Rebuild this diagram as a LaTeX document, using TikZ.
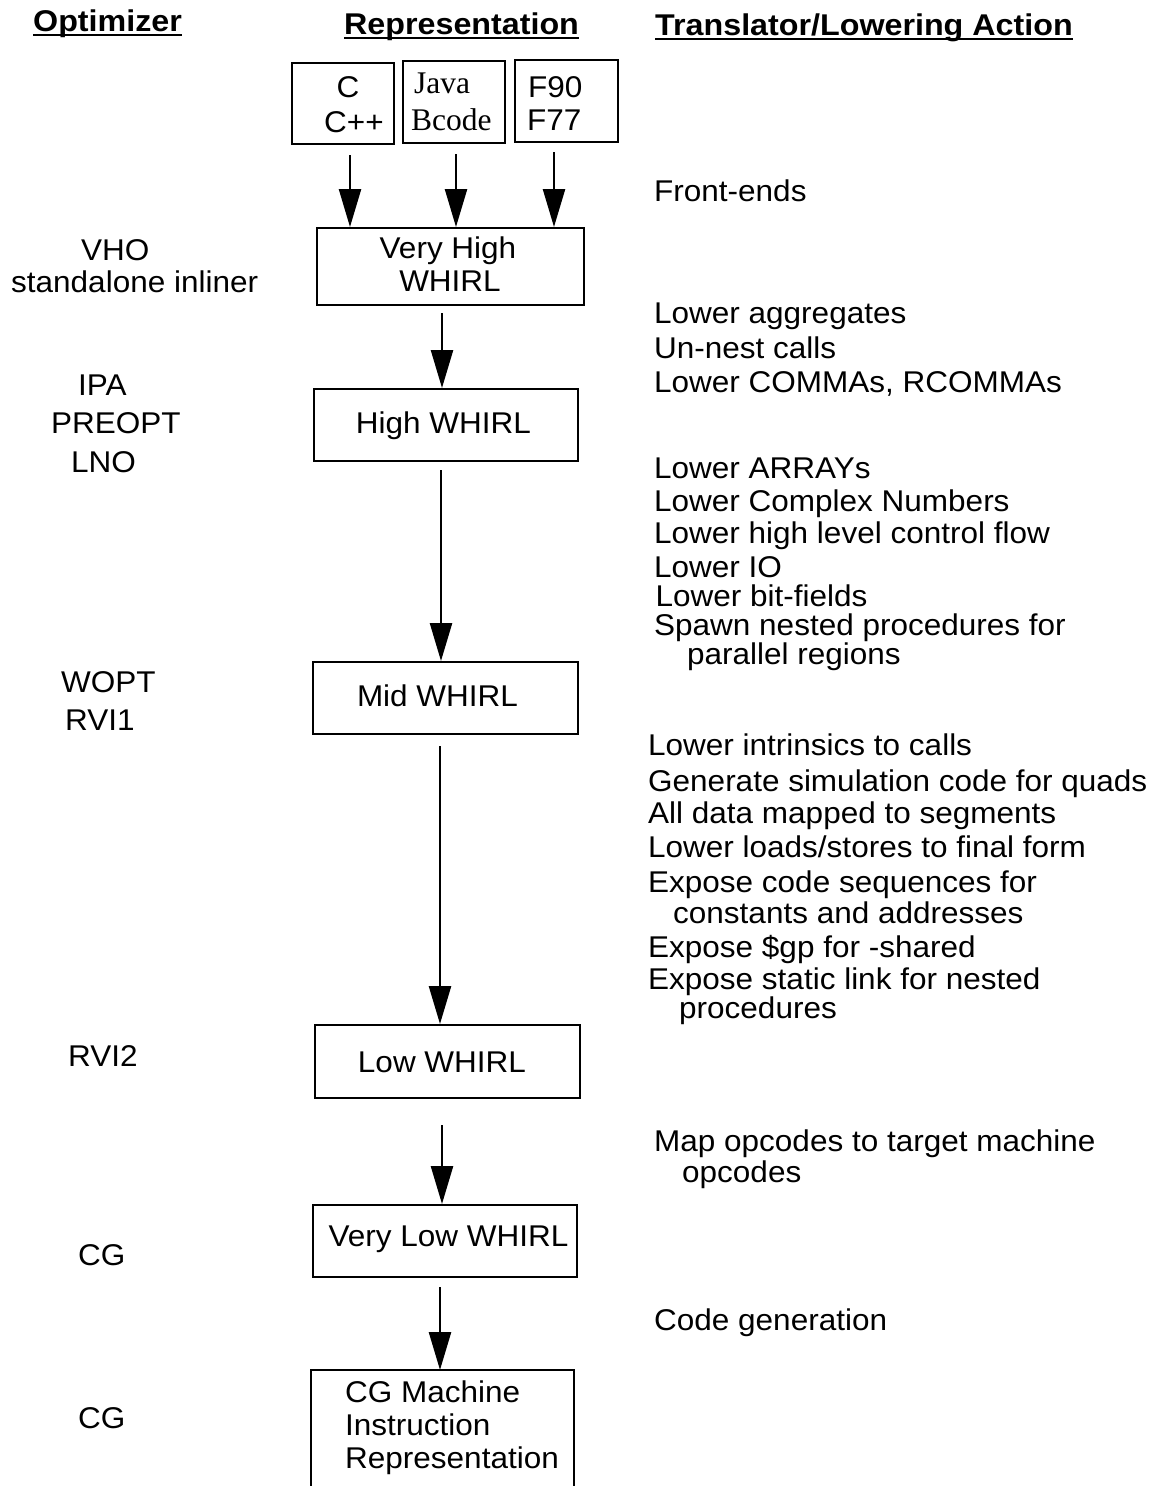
\documentclass[tikz,border=0pt]{standalone}
\usepackage{fontspec}
\setmainfont{Liberation Sans}[FakeStretch=1.05]
\newfontfamily\serifjava{Liberation Serif}
\newfontfamily\headfont{Liberation Sans}[FakeStretch=1.075]
\usetikzlibrary{arrows.meta}
\tikzset{
  txt/.style={inner sep=0pt, anchor=base west, font=\fontsize{30}{34}\selectfont},
  ctxt/.style={txt, anchor=base},
  jtxt/.style={inner sep=0pt, anchor=base west, font=\serifjava\fontsize{31.5}{34}\selectfont},
  head/.style={txt, font=\headfont\bfseries\fontsize{30}{34}\selectfont},
  firstl/.style={text depth=1pt},
  contl/.style={text height=15pt},
  uline/.style={line width=2pt},
  box/.style={draw, line width=2pt, inner sep=0pt, anchor=north west},
  arr/.style={line width=2.5pt, -{Triangle[length=38pt,width=22pt]}},
}
\begin{document}
\begin{tikzpicture}[x=1pt,y=-1pt]
\useasboundingbox[fill=white] (0,0) rectangle (1168,1486);

% headers
\node[head] (h1) at (33,31) {Optimizer};
\node[head] (h2) at (344,34) {Representation};
\node[head] (h3) at (655,35) {Translator/Lowering Action};
\foreach \h in {h1,h2,h3}
  \draw[uline] ([yshift=-3.5pt]\h.base west) -- ([yshift=-3.5pt]\h.base east);

% source boxes
\node[box, minimum width=102pt, minimum height=81pt] (cbox) at (291,62) {};
\node[box, minimum width=102pt, minimum height=82pt] (jbox) at (402,60) {};
\node[box, minimum width=103pt, minimum height=82pt] (fbox) at (514,59) {};
\node[ctxt] (tc) at (348,97) {C};
\node[ctxt] (tcpp) at (354,132) {C++};
\node[jtxt] (tjava) at (414,93) {Java};
\node[jtxt] (tbcode) at (411,130) {Bcode};
\node[txt] (tf90) at (528,97) {F90};
\node[txt] (tf77) at (527,130) {F77};

% representation boxes
\node[box, minimum width=267pt, minimum height=77pt] (vh) at (316,227) {};
\node[box, minimum width=264pt, minimum height=72pt] (hi) at (313,388) {};
\node[box, minimum width=265pt, minimum height=72pt] (mid) at (312,661) {};
\node[box, minimum width=265pt, minimum height=73pt] (low) at (314,1024) {};
\node[box, minimum width=264pt, minimum height=72pt] (vlow) at (312,1204) {};
\node[inner sep=0pt, anchor=north west, minimum width=263pt, minimum height=124pt] (cg) at (311,1370) {};
\draw[line width=2pt] (cg.south west) -- (cg.north west) -- (cg.north east) -- (cg.south east);

\node[ctxt] (tvh1) at (448,258) {Very High};
\node[ctxt] (tvh2) at (450,291) {WHIRL};
\node[ctxt] (thi) at (443.5,433) {High WHIRL};
\node[ctxt] (tmid) at (437.5,706) {Mid WHIRL};
\node[ctxt] (tlow) at (442,1072) {Low WHIRL};
\node[ctxt] (tvlow) at (448.5,1246) {Very Low WHIRL};
\node[txt] (tcg1) at (345,1402) {CG Machine};
\node[txt] (tcg2) at (345,1435) {Instruction};
\node[txt] (tcg3) at (345,1468) {Representation};

% arrows
\coordinate (s1) at (350,155);
\coordinate (s2) at (456,154);
\coordinate (s3) at (554,152);
\coordinate (s4) at (442,313);
\coordinate (s5) at (441,470);
\coordinate (s6) at (440,746);
\coordinate (s7) at (442,1125);
\coordinate (s8) at (440,1287);
\draw[arr] (s1) -- (s1 |- vh.north);
\draw[arr] (s2) -- (s2 |- vh.north);
\draw[arr] (s3) -- (s3 |- vh.north);
\draw[arr] (s4) -- (s4 |- hi.north);
\draw[arr] (s5) -- (s5 |- mid.north);
\draw[arr] (s6) -- (s6 |- low.north);
\draw[arr] (s7) -- (s7 |- vlow.north);
\draw[arr] (s8) -- (s8 |- cg.north);

% optimizer labels
\node[txt] (o1) at (81,260) {VHO};
\node[txt] (o2) at (11,292) {standalone inliner};
\node[txt] (o3) at (78,395) {IPA};
\node[txt] (o4) at (51,433) {PREOPT};
\node[txt] (o5) at (71,472) {LNO};
\node[txt] (o6) at (61,692) {WOPT};
\node[txt] (o7) at (65,730) {RVI1};
\node[txt] (o8) at (68,1066) {RVI2};
\node[txt] (o9) at (78,1265) {CG};
\node[txt] (o10) at (78,1428) {CG};

% translator / lowering actions
\node[txt] (r1) at (654,201) {Front-ends};
\node[txt] (r2) at (654,323) {Lower aggregates};
\node[txt] (r3) at (654,358) {Un-nest calls};
\node[txt] (r4) at (654,392) {Lower COMMAs, RCOMMAs};
\node[txt] (r5) at (654,478) {Lower ARRAYs};
\node[txt] (r6) at (654,511) {Lower Complex Numbers};
\node[txt] (r7) at (654,543) {Lower high level control flow};
\node[txt] (r8) at (654,577) {Lower IO};
\node[txt] (r9) at (655.5,606) {Lower bit-fields};
\node[txt, firstl] (r10) at (654,635) {Spawn nested procedures for};
\node[txt, contl] (r11) at (687,664) {parallel regions};
\node[txt] (r12) at (648,755) {Lower intrinsics to calls};
\node[txt] (r13) at (648,791) {Generate simulation code for quads};
\node[txt] (r14) at (648,823) {All data mapped to segments};
\node[txt] (r15) at (648,857) {Lower loads/stores to final form};
\node[txt] (r16) at (648,892) {Expose code sequences for};
\node[txt] (r17) at (673,923) {constants and addresses};
\node[txt] (r18) at (648,957) {Expose \$gp for -shared};
\node[txt, firstl] (r19) at (648,989) {Expose static link for nested};
\node[txt, contl] (r20) at (679,1018) {procedures};
\node[txt] (r21) at (654,1151) {Map opcodes to target machine};
\node[txt] (r22) at (682,1182) {opcodes};
\node[txt] (r23) at (654,1330) {Code generation};
\end{tikzpicture}
\end{document}
